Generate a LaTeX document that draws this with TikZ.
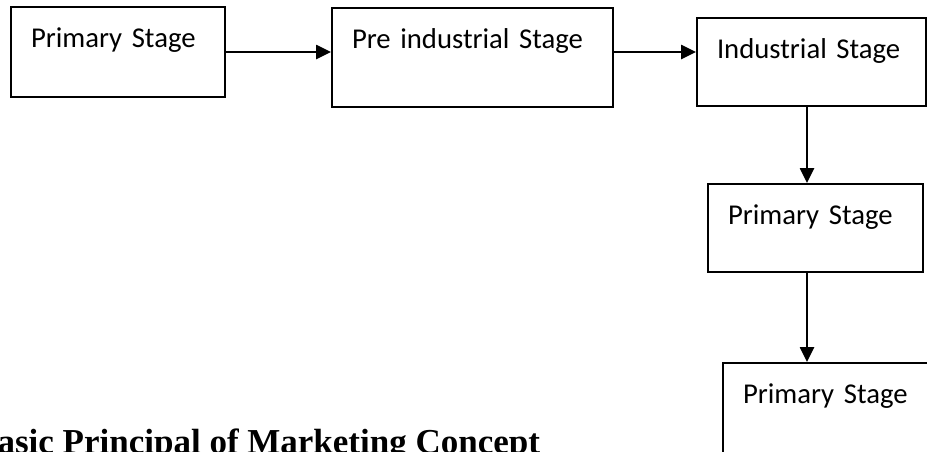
\documentclass[tikz,border=0pt]{standalone}
\usepackage{fontspec}
\setmainfont{Liberation Serif}
\newfontfamily\boxfont{Carlito}
\usetikzlibrary{arrows.meta}
\tikzset{
  stage/.style={draw, line width=2pt, inner xsep=20pt, inner ysep=0pt, align=left,
    text height=40pt, font=\boxfont\fontsize{28.7}{34}\selectfont},
  flow/.style={-{Triangle[length=15pt,width=14pt]}, line width=2.6pt},
  heading/.style={anchor=base west, inner sep=0pt, font=\bfseries\fontsize{35}{40}\selectfont},
}
\begin{document}
\begin{tikzpicture}[x=1pt, y=-1pt]
  \useasboundingbox (0, 0) rectangle (927, 451);
  \clip (0, 0) rectangle (927, 451);
  \node[stage, text width=174pt, text depth=50pt] at (118, 52) (primary) {Primary Stage};
  \node[stage, text width=241pt, text depth=59pt] at (472.5, 57.5) (preind) {Pre industrial Stage};
  \node[stage, text width=189pt, text depth=48pt] at (811.5, 62) (ind) {Industrial Stage};
  \node[stage, text width=175pt, text depth=48pt] at (815.5, 228) (primary2) {Primary Stage};
  \node[stage, text width=190pt, text depth=52pt] at (838, 409) (primary3) {Primary Stage};
  \coordinate (col) at (807, 0);
  \draw[flow] (primary.east) -- (preind.west |- primary.east);
  \draw[flow] (preind.east |- primary.east) -- (ind.west |- primary.east);
  \draw[flow] (ind.south -| col) -- (primary2.north -| col);
  \draw[flow] (primary2.south -| col) -- (primary3.north -| col);
  \node[heading] at (-26, 453) (title) {Basic Principal of Marketing Concept};
\end{tikzpicture}
\end{document}
